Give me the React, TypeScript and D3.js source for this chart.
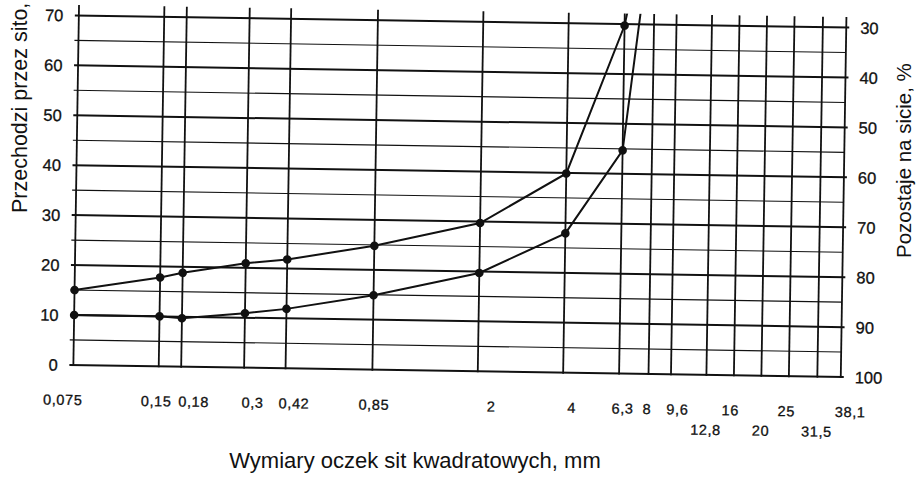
import * as d3 from 'd3'

// sieve sizes (mm) and their printed labels
const sieves = [0.075, 0.15, 0.18, 0.3, 0.42, 0.85, 2, 4, 6.3, 8, 9.6, 12.8, 16, 20, 25, 31.5, 38.1]
const sieveLabels = ['0,075', '0,15', '0,18', '0,3', '0,42', '0,85', '2', '4', '6,3', '8', '9,6', '12,8', '16', '20', '25', '31,5', '38,1']
const secondRowLabels = ['12,8', '20', '31,5']

// grading curves: % passing per sieve
const curveSieves = [0.075, 0.15, 0.18, 0.3, 0.42, 0.85, 2, 4, 6.3, 8]
const upperCurve = [15, 17.8, 18.8, 20.9, 21.8, 24.8, 29.7, 39.9, 69.7, 100]
const lowerCurve = [10, 10, 9.7, 10.9, 11.9, 14.9, 19.7, 27.9, 44.7, 96]

const leftTicks = [0, 10, 20, 30, 40, 50, 60, 70]
const gridLines = [0, 5, 10, 15, 20, 25, 30, 35, 40, 45, 50, 55, 60, 65, 70]

const W = 919
const H = 477
const plot = { left: 76, right: 843.5, top: 21.5, bottom: 371 }
const overTop = 10.5
const font = '"Liberation Sans", Arial, sans-serif'
const ink = '#111'
// the printed sieve labels sit a little off their lines (px, by label index)
const labelShift = [-10, -2, 13, 9, 9, 2, 14, 9, 4, -1, 7, 0, -3, 0, -2, 0, 10]

const App = () => {
  const x = d3.scaleLog().domain([0.075, 38.1]).range([plot.left, plot.right])
  const y = d3.scaleLinear().domain([0, 70]).range([plot.bottom, plot.top])

  const line = d3
    .line<number>()
    .x((_d, i) => x(curveSieves[i]))
    .y(d => y(d))

  const curves = [upperCurve, lowerCurve]

  return (
    <svg
      width={W}
      height={H}
      style={{ position: 'absolute', left: 0, top: 0, background: '#fff' }}
      fontFamily={font}
    >
      <defs>
        <clipPath id="plot-clip">
          <rect
            x={plot.left - 6}
            y={plot.top - overTop}
            width={plot.right - plot.left + 12}
            height={plot.bottom - plot.top + overTop + 6}
          />
        </clipPath>
      </defs>

      <g transform="rotate(0.9, 460, 200)">
        {/* horizontal grid */}
        {gridLines.map(v => (
          <line
            key={'h' + v}
            x1={plot.left - 4}
            x2={plot.right + (v % 10 === 0 ? 3 : 0)}
            y1={y(v)}
            y2={y(v)}
            stroke={ink}
            strokeWidth={v % 10 === 0 ? 2 : 1.1}
          />
        ))}

        {/* vertical sieve lines */}
        {sieves.map(s => (
          <line
            key={'v' + s}
            x1={x(s)}
            x2={x(s)}
            y1={plot.bottom + 1}
            y2={plot.top - overTop}
            stroke={ink}
            strokeWidth={1.8}
          />
        ))}

        {/* curves */}
        <g clipPath="url(#plot-clip)">
          {curves.map((c, i) => (
            <path key={'c' + i} d={line(c) || ''} fill="none" stroke={ink} strokeWidth={2} />
          ))}
        </g>
        {curves.map((c, i) =>
          c.map((v, j) =>
            v <= 70 ? (
              <circle key={`p${i}-${j}`} cx={x(curveSieves[j])} cy={y(v)} r={4.3} fill={ink} />
            ) : null
          )
        )}

        {/* left axis labels */}
        {leftTicks.map(v => (
          <text
            key={'l' + v}
            x={plot.left - 15.5}
            y={y(v)}
            textAnchor="end"
            dominantBaseline="central"
            fontSize={16.5}
            fill={ink}
            stroke={ink}
            strokeWidth={0.3}
          >
            {v}
          </text>
        ))}

        {/* right axis labels: % retained */}
        {leftTicks.map(v => (
          <text
            key={'r' + v}
            x={plot.right + 14}
            y={y(v)}
            textAnchor="start"
            dominantBaseline="central"
            fontSize={16.5}
            fill={ink}
            stroke={ink}
            strokeWidth={0.3}
          >
            {100 - v}
          </text>
        ))}

        {/* sieve labels */}
        {sieves.map((s, i) => (
          <text
            key={'x' + s}
            x={x(s) + labelShift[i]}
            y={secondRowLabels.includes(sieveLabels[i]) ? plot.bottom + 60 : plot.bottom + 40}
            textAnchor="middle"
            fontSize={14.5}
            letterSpacing={0.6}
            fill={ink}
            stroke={ink}
            strokeWidth={0.3}
          >
            {sieveLabels[i]}
          </text>
        ))}
      </g>

      {/* axis titles */}
      <text x={415} y={468} textAnchor="middle" fontSize={22} fill={ink}>
        Wymiary oczek sit kwadratowych, mm
      </text>
      <text transform="translate(27,213) rotate(-90)" fontSize={21.5} fill={ink}>
        Przechodzi przez sito, %
      </text>
      <text transform="translate(911,258) rotate(-90)" fontSize={20.5} fill={ink}>
        Pozostaje na sicie, %
      </text>
    </svg>
  )
}

export default App
